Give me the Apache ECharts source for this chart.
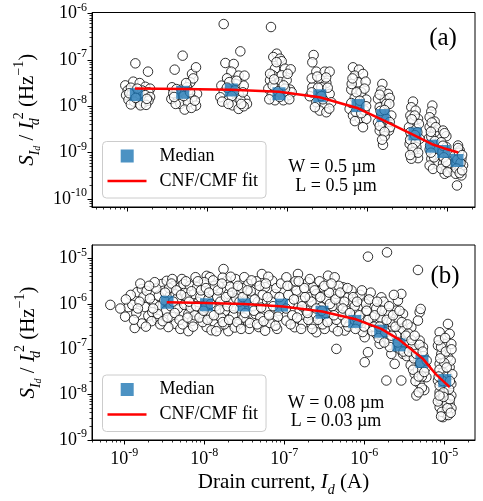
<!DOCTYPE html>
<html><head><meta charset="utf-8">
<script src="https://cdn.jsdelivr.net/npm/echarts@6/dist/echarts.min.js"></script>
<style>html,body{margin:0;padding:0;background:#fff}#c{width:483px;height:501px}</style>
</head><body><div id="c"></div><script>
// All values are log10 exponents: [log10(Id / A), log10(S/Id^2 / Hz^-1)]
const pointsA = [
[-8.904,-7.075],[-8.746,-7.254],[-9.03,-7.55],[-8.93,-7.47],[-8.85,-7.50],[-8.78,-7.58],[-8.72,-7.62],[-9.00,-7.66],[-8.96,-7.60],[-8.82,-7.66],[-8.74,-7.70],[-9.02,-7.76],[-8.95,-7.74],[-8.78,-7.76],[-8.72,-7.80],[-8.99,-7.86],[-8.92,-7.90],[-8.86,-7.94],[-8.80,-7.92],[-8.74,-7.88],[-8.96,-7.96],[-8.84,-7.98],[-8.77,-7.97],
[-8.88,-7.62],[-8.98,-7.72],[-8.76,-7.84],[-8.90,-7.82],
[-8.313,-6.91],[-8.413,-7.211],[-8.196,-7.304],[-8.146,-7.161],[-8.217,-7.483],[-8.446,-7.591],[-8.329,-7.641],[-8.404,-7.734],[-8.133,-7.734],[-8.454,-7.842],[-8.371,-7.856],[-8.196,-7.842],[-8.342,-7.949],[-8.246,-7.914],[-8.146,-7.985],[-8.288,-8.071],[-8.204,-8.035],[-8.35,-7.68],[-8.258,-7.591],[-8.39,-7.63],[-8.18,-7.40],
[-8.43,-7.72],[-8.30,-7.78],[-8.22,-7.70],[-8.16,-7.88],[-8.40,-7.95],[-8.27,-7.50],[-8.42,-7.80],
[-7.80,-6.229],[-7.592,-6.817],[-7.779,-7.068],[-7.675,-7.089],[-7.704,-7.254],[-7.613,-7.340],[-7.758,-7.397],[-7.54,-7.34],[-7.646,-7.519],[-7.829,-7.555],[-7.73,-7.48],[-7.55,-7.555],[-7.80,-7.698],[-7.613,-7.734],[-7.842,-7.806],[-7.53,-7.856],[-7.738,-7.856],[-7.654,-7.914],[-7.59,-7.86],[-7.509,-7.949],[-7.69,-7.98],[-7.613,-8.057],[-7.55,-8.00],
[-7.76,-7.60],[-7.66,-7.66],[-7.56,-7.70],[-7.70,-7.78],[-7.82,-7.90],[-7.64,-7.45],[-7.74,-7.95],[-7.58,-7.95],
[-7.209,-6.293],[-7.138,-6.867],[-7.18,-6.939],[-7.096,-6.974],[-7.075,-7.03],[-7.159,-7.19],[-7.034,-7.19],[-6.963,-7.204],[-7.188,-7.333],[-7.075,-7.333],[-7.221,-7.44],[-7.096,-7.476],[-7.013,-7.44],[-7.242,-7.62],[-7.159,-7.60],[-6.971,-7.641],[-7.2,-7.763],[-6.992,-7.763],[-7.159,-7.871],[-7.054,-7.871],[-6.95,-7.70],[-7.188,-7.55],[-7.034,-7.62],
[-7.14,-7.05],[-7.22,-7.30],[-7.00,-7.30],[-7.12,-7.68],[-7.23,-7.85],[-7.05,-7.55],[-6.98,-7.85],[-7.10,-7.80],[-7.17,-7.42],
[-6.676,-6.896],[-6.692,-7.053],[-6.642,-7.254],[-6.538,-7.254],[-6.476,-7.254],[-6.6,-7.412],[-6.517,-7.498],[-6.692,-7.591],[-6.58,-7.59],[-6.725,-7.784],[-6.476,-7.734],[-6.642,-7.914],[-6.538,-7.949],[-6.455,-7.914],[-6.6,-8.093],[-6.517,-8.129],[-6.66,-8.02],[-6.56,-7.85],[-6.70,-7.40],
[-6.62,-7.60],[-6.70,-7.70],[-6.50,-7.60],[-6.58,-7.78],[-6.48,-8.05],[-6.63,-7.36],[-6.52,-7.38],
[-6.184,-7.161],[-6.109,-7.211],[-6.163,-7.34],[-6.059,-7.304],[-6.121,-7.483],[-6.026,-7.469],[-6.205,-7.641],[-6.08,-7.698],[-6.163,-7.827],[-6.018,-7.856],[-6.226,-8.057],[-6.121,-7.95],[-6.184,-8.2],[-6.1,-8.258],[-6.018,-8.272],[-6.059,-8.451],[-6.15,-8.12],[-6.205,-7.93],[-6.04,-8.09],
[-6.20,-7.52],[-6.04,-7.62],[-6.14,-7.70],[-6.10,-7.88],[-6.02,-8.00],[-6.16,-8.32],[-6.08,-8.15],[-6.19,-7.40],
[-5.817,-7.519],[-5.83,-7.663],[-5.746,-7.734],[-5.871,-7.842],[-5.788,-7.856],[-5.725,-7.82],[-5.85,-8.021],[-5.767,-7.949],[-5.83,-8.164],[-5.705,-8.2],[-5.871,-8.344],[-5.809,-8.38],[-5.734,-8.523],[-5.85,-8.523],[-5.788,-8.645],[-5.809,-8.831],[-5.767,-8.27],[-5.725,-8.34],
[-5.85,-7.75],[-5.73,-7.95],[-5.84,-8.10],[-5.79,-8.08],[-5.72,-8.45],[-5.85,-8.42],[-5.79,-8.55],[-5.82,-8.72],
[-5.434,-7.899],[-5.455,-8.021],[-5.401,-8.093],[-5.467,-8.2],[-5.371,-8.272],[-5.434,-8.34],[-5.484,-8.451],[-5.392,-8.487],[-5.455,-8.63],[-5.351,-8.702],[-5.476,-8.81],[-5.392,-8.881],[-5.434,-8.989],[-5.371,-9.118],[-5.455,-9.13],[-5.413,-8.2],[-5.36,-8.38],[-5.467,-8.56],
[-5.45,-8.28],[-5.38,-8.56],[-5.47,-8.72],[-5.40,-8.78],[-5.44,-8.90],[-5.37,-9.00],[-5.47,-9.05],[-5.41,-8.62],
[-5.192,-7.985],[-5.205,-8.114],[-5.226,-8.236],[-5.163,-8.329],[-5.226,-8.451],[-5.163,-8.559],[-5.234,-8.688],[-5.184,-8.81],[-5.226,-8.932],[-5.163,-9.025],[-5.205,-9.132],[-5.142,-9.24],[-5.226,-9.276],[-5.184,-9.35],[-5.134,-8.91],[-5.205,-8.66],
[-5.20,-8.35],[-5.16,-8.75],[-5.22,-8.85],[-5.17,-9.10],[-5.21,-9.00],[-5.15,-8.45],[-5.21,-8.55],
[-5.059,-8.523],[-5.017,-8.645],[-5.08,-8.774],[-5.017,-8.881],[-5.067,-8.989],[-5.009,-9.132],[-5.059,-9.24],[-5.017,-9.347],[-5.038,-9.455],[-5.08,-9.347],[-4.997,-9.24],
[-5.04,-8.58],[-5.06,-8.85],[-5.00,-9.00],[-5.05,-9.10],[-5.02,-9.20],[-5.00,-9.42],
[-4.871,-8.845],[-4.85,-8.953],[-4.913,-9.06],[-4.829,-9.132],[-4.892,-9.24],[-4.85,-9.347],[-4.9,-9.455],[-4.829,-9.49],[-4.884,-9.706],[-4.808,-9.27],
[-4.86,-9.00],[-4.88,-9.15],[-4.84,-9.22],[-4.89,-9.34],[-4.85,-9.44],[-4.82,-9.38],[-4.87,-8.90],[-4.82,-9.05]
];
const medianA_logId = [-8.892,-8.3125,-7.705,-7.109,-6.60,-6.121,-5.809,-5.41,-5.196,-5.05,-4.884];
const medianA_logS  = [-7.75,-7.70,-7.649,-7.731,-7.774,-7.985,-8.2,-8.596,-8.86,-8.974,-9.168];
const fitA_logId = [-8.91,-8.3125,-7.705,-7.109,-6.60,-6.121,-5.809,-5.41,-5.196,-5.05,-4.868];
const fitA_logS  = [-7.619,-7.63,-7.645,-7.688,-7.806,-8.043,-8.30,-8.634,-8.817,-8.903,-8.996];

const pointsB = [
[-9.175,-6.02],[-8.99,-6.28],[-8.95,-6.07],[-8.90,-6.02],[-8.87,-6.53],[-8.84,-5.74],[-8.78,-5.67],[-8.76,-5.84],[-8.74,-6.07],[-8.78,-6.43],[-8.70,-6.26],[-8.72,-5.71],[-8.63,-6.00],[-8.65,-6.18],[-8.59,-6.33],[-8.53,-5.56],[-8.51,-5.71],[-8.57,-5.82],[-8.47,-5.49],[-8.40,-5.45],[-8.38,-5.60],[-8.43,-5.82],[-8.36,-5.78],[-8.30,-5.63],[-8.28,-5.45],[-8.24,-5.74],[-8.32,-5.93],[-8.28,-6.18],[-8.20,-6.22],[-8.40,-6.29],[-8.36,-6.44],[-8.45,-6.51],[-8.30,-6.55],[-8.20,-6.60],[-8.15,-6.37],[-8.11,-5.41],[-8.13,-5.78],[-8.07,-5.96],[-8.03,-6.22],[-7.97,-5.38],[-7.93,-5.41],[-7.90,-5.71],[-7.82,-5.56],[-7.84,-5.85],[-7.76,-5.23],[-7.72,-5.49],[-7.70,-5.78],[-7.74,-6.15],[-7.88,-6.44],[-7.97,-6.51],[-7.82,-6.51],[-7.70,-6.60],[-7.61,-5.45],[-7.57,-5.78],[-7.50,-5.41],[-7.45,-5.56],[-7.40,-5.85],[-7.36,-6.22],[-7.47,-6.37],[-7.57,-6.44],[-7.28,-5.34],[-7.24,-5.63],[-7.32,-6.51],[-7.24,-6.59],[-7.15,-5.49],[-7.12,-5.78],[-7.13,-6.37],[-7.07,-6.15],[-7.09,-6.55],
[-8.92,-5.80],[-8.85,-6.20],[-8.81,-5.95],[-8.68,-5.88],[-8.66,-6.38],[-8.60,-5.66],[-8.56,-6.05],[-8.55,-6.45],[-8.50,-5.92],[-8.48,-6.15],[-8.44,-5.65],[-8.42,-6.05],[-8.34,-5.88],[-8.33,-6.10],[-8.26,-5.56],[-8.25,-6.02],[-8.22,-5.85],[-8.18,-5.60],[-8.17,-6.08],[-8.12,-6.25],[-8.09,-5.63],[-8.05,-5.85],[-8.02,-6.40],[-8.00,-5.52],[-7.99,-6.08],[-7.95,-5.90],[-7.92,-6.22],[-7.91,-6.58],[-7.87,-5.60],[-7.86,-6.05],[-7.80,-5.95],[-7.79,-6.30],[-7.77,-5.42],[-7.75,-6.45],[-7.68,-5.62],[-7.66,-5.95],[-7.64,-6.25],[-7.62,-6.52],[-7.60,-5.88],[-7.55,-6.10],[-7.53,-5.65],[-7.51,-6.30],[-7.48,-5.95],[-7.44,-6.55],[-7.42,-5.72],[-7.39,-6.05],[-7.35,-5.50],[-7.33,-5.95],[-7.30,-6.30],[-7.27,-5.80],[-7.22,-6.10],[-7.20,-5.40],[-7.18,-6.42],[-7.16,-5.95],[-7.10,-5.65],[-7.08,-6.28],
[-8.62,-5.52],[-8.58,-6.22],[-8.52,-6.38],[-8.49,-5.75],[-8.46,-6.30],[-8.41,-5.55],[-8.39,-5.95],[-8.37,-6.20],[-8.35,-5.70],[-8.31,-6.35],[-8.29,-5.80],[-8.27,-6.45],[-8.23,-5.50],[-8.21,-6.30],[-8.19,-5.95],[-8.16,-5.72],[-8.14,-6.50],[-8.10,-6.05],[-8.08,-5.50],[-8.06,-6.30],[-8.04,-5.70],[-8.01,-6.15],[-7.98,-5.65],[-7.96,-6.35],[-7.94,-5.75],[-7.92,-6.00],[-7.89,-5.48],[-7.88,-6.25],[-7.85,-6.60],[-7.83,-5.70],[-7.81,-6.12],[-7.78,-5.55],[-7.77,-6.40],[-7.73,-5.85],[-7.71,-6.05],[-7.69,-6.35],[-7.67,-5.40],[-7.65,-5.75],[-7.63,-6.10],[-7.59,-6.40],[-7.58,-5.60],[-7.56,-5.95],[-7.54,-6.55],[-7.52,-5.85],[-7.49,-6.20],[-7.46,-5.70],[-7.43,-6.42],[-7.41,-5.48],[-7.38,-6.15],[-7.37,-5.90],[-7.34,-6.45],[-7.31,-5.60],[-7.29,-6.08],[-7.26,-6.38],[-7.23,-5.55],[-7.21,-5.85],[-7.19,-6.25],[-7.14,-6.05],[-7.11,-6.48],[-7.06,-5.85],[-7.04,-5.55],
[-9.05,-6.10],[-8.98,-5.90],[-8.88,-6.35],[-8.83,-6.10],[-8.80,-5.55],[-8.73,-6.50],[-8.69,-5.60],[-8.64,-6.10],
[-6.974,-5.412],[-6.891,-5.596],[-6.829,-5.339],[-6.849,-5.706],[-6.933,-6.0],[-6.808,-6.146],[-6.974,-6.367],[-6.87,-6.514],[-6.766,-6.44],[-6.787,-5.926],[-6.703,-5.522],[-6.641,-5.632],[-6.683,-5.853],[-6.599,-5.779],[-6.724,-6.146],[-6.62,-6.257],[-6.662,-6.44],[-6.599,-6.624],[-6.516,-5.632],[-6.474,-5.889],[-6.537,-6.073],[-6.433,-6.367],[-6.391,-6.514],[-6.495,-6.55],[-6.453,-5.376],[-6.37,-5.412],[-6.349,-5.779],[-6.308,-6.036],[-6.266,-5.632],[-6.203,-5.853],[-6.224,-6.146],[-6.141,-5.963],[-6.183,-6.44],[-6.099,-6.22],[-6.245,-6.587],[-6.349,-6.991],[-6.016,-5.926],[-5.974,-6.146],[-6.037,-6.367],[-5.933,-6.514],[-5.995,-6.734],[-5.891,-6.293],[-5.849,-6.66],[-5.787,-5.853],[-5.954,-7.064],[-5.808,-6.881],[-5.995,-7.284],[-5.766,-6.367],[-5.724,-6.587],[-5.683,-6.807],[-5.641,-6.514],[-5.599,-6.146],[-5.579,-5.926],[-5.537,-5.779],[-5.516,-6.22],[-5.558,-6.624],[-5.662,-7.101],[-5.62,-7.321],[-5.516,-7.101],[-5.474,-6.807],[-5.599,-6.954],[-5.724,-7.688],[-5.537,-7.688],[-5.433,-6.881],[-5.412,-6.514],[-5.37,-7.027],[-5.349,-7.321],[-5.308,-6.807],[-5.329,-7.174],[-5.266,-6.954],[-5.37,-7.541],[-5.287,-7.468],[-5.245,-7.321],[-5.308,-7.762],[-5.349,-8.019],[-5.224,-7.615],[-5.308,-6.183],[-5.329,-6.367],[-5.295,-6.11],[-5.954,-4.957],[-5.716,-4.862],[-5.329,-5.251],
[-6.95,-5.80],[-6.90,-6.25],[-6.86,-5.50],[-6.78,-6.05],[-6.75,-5.65],[-6.70,-6.35],[-6.66,-5.95],[-6.60,-6.10],[-6.56,-5.50],[-6.52,-6.45],[-6.48,-6.20],[-6.44,-5.75],[-6.40,-6.05],[-6.35,-6.35],[-6.32,-5.60],[-6.28,-6.25],[-6.25,-5.95],[-6.20,-6.50],[-6.16,-5.70],[-6.12,-6.05],[-6.08,-6.45],[-6.05,-5.80],[-6.02,-6.62],[-5.98,-6.00],[-5.95,-6.35],[-5.92,-5.75],[-5.88,-6.50],[-5.85,-6.10],[-5.82,-6.75],[-5.80,-6.30],[-5.76,-5.95],[-5.74,-6.62],[-5.70,-6.20],[-5.68,-6.95],[-5.66,-6.40],[-5.63,-5.80],[-5.60,-6.70],[-5.57,-6.35],[-5.55,-7.00],[-5.52,-6.55],[-5.50,-6.85],[-5.47,-7.15],[-5.45,-6.65],[-5.42,-7.35],[-5.40,-6.95],[-5.38,-7.20],[-5.36,-7.70],[-5.33,-7.45],[-5.31,-6.90],[-5.28,-7.60],[-5.26,-7.15],[-5.25,-7.90],[-5.23,-7.40],
[-6.98,-6.10],[-6.96,-5.60],[-6.92,-6.45],[-6.88,-5.90],[-6.84,-6.30],[-6.82,-5.50],[-6.79,-6.55],[-6.74,-5.85],[-6.71,-6.20],[-6.68,-5.45],[-6.65,-6.55],[-6.62,-5.70],[-6.58,-6.35],[-6.55,-5.85],[-6.53,-6.15],[-6.50,-5.60],[-6.46,-6.40],[-6.43,-6.00],[-6.41,-5.55],[-6.38,-6.25],[-6.36,-5.90],[-6.33,-6.60],[-6.30,-5.75],[-6.27,-6.10],[-6.23,-6.40],[-6.21,-5.65],[-6.18,-6.20],[-6.14,-5.85],[-6.11,-6.55],[-6.09,-5.95],[-6.06,-6.25],[-6.03,-5.70],[-6.00,-6.50],[-5.97,-6.15],[-5.94,-5.90],[-5.90,-6.60],[-5.87,-6.25],[-5.84,-5.95],[-5.81,-6.50],[-5.78,-6.15],[-5.75,-6.85],[-5.72,-6.35],[-5.69,-6.05],[-5.66,-6.70],[-5.64,-6.25],[-5.61,-6.50],[-5.58,-6.85],[-5.56,-6.15],[-5.53,-6.40],[-5.51,-7.05],[-5.48,-6.70],[-5.46,-6.45],[-5.44,-7.05],[-5.41,-6.80],[-5.39,-7.45],[-5.37,-6.70],[-5.35,-7.10],[-5.32,-7.60],[-5.30,-7.30],[-5.27,-7.05],[-5.25,-7.50],[-5.22,-7.25],[-5.28,-7.85],[-5.32,-7.95],
[-4.954,-6.44],[-5.058,-6.624],[-4.933,-6.66],[-4.995,-6.881],[-5.079,-6.917],[-4.912,-6.881],[-5.037,-7.101],[-4.954,-7.174],[-5.058,-7.321],[-4.933,-7.395],[-5.016,-7.505],[-5.079,-7.688],[-4.912,-7.762],[-4.995,-7.835],[-5.058,-7.945],[-4.954,-8.019],[-5.016,-8.129],[-4.933,-8.202],[-5.058,-8.276],[-4.975,-8.349],[-5.016,-8.496],[-4.975,-8.437],[-4.912,-8.019],[-5.058,-7.798],
[-5.04,-6.95],[-4.98,-7.05],[-4.92,-7.25],[-5.06,-7.45],[-4.96,-7.60],[-5.02,-7.70],[-4.94,-7.88],[-5.05,-8.10],[-4.97,-8.20],[-4.91,-8.30],[-5.03,-8.38],[-4.95,-8.45],[-5.08,-8.15],[-4.90,-7.55],[-5.00,-7.30],[-4.93,-8.10],[-5.01,-7.95],
[-5.07,-6.80],[-4.99,-6.75],[-4.91,-7.00],[-5.05,-7.20],[-4.97,-7.40],[-4.93,-7.70],[-5.07,-7.60],[-5.01,-8.05],[-4.96,-8.30],[-5.04,-8.48],[-4.92,-8.40],[-5.06,-8.02]
];
const medianB_logId = [-8.466,-7.9725,-7.504,-7.035,-6.529,-6.119,-5.795,-5.566,-5.279,-4.994];
const medianB_logS  = [-5.963,-6.018,-6.022,-6.026,-6.183,-6.385,-6.601,-6.903,-7.267,-7.689];
const fitB_logId = [-8.47,-7.9725,-7.504,-7.016,-6.525,-6.12,-5.7875,-5.5575,-5.266,-5.10,-4.9325];
const fitB_logS  = [-5.963,-5.978,-6.0,-6.055,-6.165,-6.33,-6.551,-6.793,-7.211,-7.56,-7.835];

const panelLabels = ['(a)', '(b)'];
const annotA = ['W = 0.5 µm', 'L = 0.5 µm'];
const annotB = ['W = 0.08 µm', 'L = 0.03 µm'];
const legendNames = ['Median', 'CNF/CMF fit'];

const FONT = 'Liberation Serif';
const zip = (a, b) => a.map((v, i) => [v, b[i]]);
function majors(min, max) { const o = []; for (let n = Math.ceil(min - 1e-9); n <= Math.floor(max + 1e-9); n++) o.push(n); return o; }
function minors(min, max) { const o = []; for (let n = Math.floor(min) - 1; n <= Math.ceil(max); n++) for (let k = 2; k <= 9; k++) { const v = n + Math.log10(k); if (v > min && v < max) o.push(v); } return o; }

const expRich = {
  b: { fontFamily: FONT, fontSize: 18, lineHeight: 24, color: '#000' },
  s: { fontFamily: FONT, fontSize: 12, lineHeight: 12, verticalAlign: 'top', color: '#000' }
};
const expFmt = v => '{b|10}{s|' + Math.round(v) + '}';

const nameRich = {
  i: { fontFamily: FONT, fontStyle: 'italic', fontSize: 21, lineHeight: 30, color: '#000' },
  n: { fontFamily: FONT, fontSize: 21, lineHeight: 30, color: '#000' },
  sub: { fontFamily: FONT, fontStyle: 'italic', fontSize: 14, lineHeight: 18, verticalAlign: 'bottom', color: '#000' },
  subw: { fontFamily: FONT, fontStyle: 'italic', fontSize: 14, lineHeight: 18, verticalAlign: 'bottom', color: '#000', width: 1 },
  ss: { fontFamily: FONT, fontStyle: 'italic', fontSize: 10, lineHeight: 12, verticalAlign: 'bottom', color: '#000' },
  sup: { fontFamily: FONT, fontSize: 14, lineHeight: 16, verticalAlign: 'top', color: '#000' },
  supp: { fontFamily: FONT, fontSize: 14, lineHeight: 16, verticalAlign: 'top', color: '#000', padding: [0, 0, 0, 2] }
};
const yName = '{i|S}{sub|I}{ss|d}{n| / }{i|I}{subw|d}{supp|2}{n| (Hz}{sup|−1}{n|)}';
const xName = '{n|Drain current, }{i|I}{sub|d}{n| (A)}';

const ranges = [
  { x: [-9.446, -4.659], y: [-10.17, -5.98] },
  { x: [-9.404, -4.616], y: [-9.0, -4.7] }
];

function axisPair(dim, gi, r, showLabel, name) {
  const [min, max] = r;
  const major = {
    gridIndex: gi, type: 'value', min, max, position: dim === 'x' ? 'bottom' : 'left',
    axisLine: { show: true, onZero: false, lineStyle: { color: '#000', width: 1 } },
    axisTick: { show: true, customValues: majors(min, max), length: 4.5, lineStyle: { color: '#000', width: 1 } },
    axisLabel: showLabel ? { show: true, customValues: majors(min, max), formatter: expFmt, rich: expRich, margin: dim === 'x' ? 7 : 5 } : { show: false },
    splitLine: { show: false }
  };
  if (name) {
    major.name = name;
    major.nameLocation = 'middle';
    major.nameTextStyle = { rich: nameRich };
    if (dim === 'y') { major.nameRotate = 90; major.nameGap = 49; }
    else { major.nameGap = 27; }
  }
  const minor = {
    gridIndex: gi, type: 'value', min, max, position: dim === 'x' ? 'bottom' : 'left',
    axisLine: { show: false, onZero: false },
    axisTick: { show: true, customValues: minors(min, max), length: 2.5, lineStyle: { color: '#000', width: 0.8 } },
    axisLabel: { show: false }, splitLine: { show: false }
  };
  return [major, minor];
}

const xAxis = [...axisPair('x', 0, ranges[0].x, false, null), ...axisPair('x', 1, ranges[1].x, true, xName)];
const yAxis = [...axisPair('y', 0, ranges[0].y, true, yName), ...axisPair('y', 1, ranges[1].y, true, yName)];

const ICON_SQ = 'path://M0,0M47,13M13.2,0L26.2,0L26.2,13L13.2,13Z';
const ICON_LN = 'path://M0,0M47,13M0,5.25L39,5.25L39,7.75L0,7.75Z';

function legend(top) {
  return {
    orient: 'vertical', left: 102.5, top, padding: [5.5, 8, 8, 5], itemGap: 7,
    itemWidth: 47, itemHeight: 13, selectedMode: false,
    backgroundColor: '#fff', borderColor: '#cccccc', borderWidth: 1, borderRadius: 4,
    textStyle: { fontFamily: FONT, fontSize: 18, color: '#000' },
    itemStyle: { borderWidth: 0 },
    data: [{ name: legendNames[0], icon: ICON_SQ }, { name: legendNames[1], icon: ICON_LN }]
  };
}

function seriesFor(gi, pts, mx, my, fx, fy) {
  return [
    { name: 'data' + gi, type: 'scatter', xAxisIndex: gi * 2, yAxisIndex: gi * 2, data: pts, symbol: 'circle', symbolSize: 9.5,
      itemStyle: { color: '#fff', borderColor: '#000', borderWidth: 1 }, silent: true, z: 2 },
    { name: legendNames[0], type: 'scatter', xAxisIndex: gi * 2, yAxisIndex: gi * 2, data: zip(mx, my), symbol: 'rect', symbolSize: 13,
      itemStyle: { color: '#1f77b4' }, silent: true, z: 3 },
    { name: legendNames[1], type: 'line', xAxisIndex: gi * 2, yAxisIndex: gi * 2, data: zip(fx, fy), symbol: 'none', showSymbol: false,
      lineStyle: { color: '#ff0000', width: 2.5 }, itemStyle: { color: '#ff0000' }, silent: true, z: 4 }
  ];
}

function txt(x, y, text, size) {
  return { type: 'text', x, y, silent: true, z: 100,
    style: { text, fill: '#000', font: size + 'px "' + FONT + '"', align: 'center', verticalAlign: 'middle', textAlign: 'center', textVerticalAlign: 'middle' } };
}

const chart = echarts.init(document.getElementById('c'), null, { renderer: 'canvas' });
chart.setOption({
  animation: false,
  backgroundColor: '#fff',
  grid: [
    { left: 92, top: 12.5, width: 383, height: 194.5, show: true, borderColor: '#000', borderWidth: 1, backgroundColor: 'transparent' },
    { left: 92, top: 245, width: 383, height: 195, show: true, borderColor: '#000', borderWidth: 1, backgroundColor: 'transparent' }
  ],
  xAxis, yAxis,
  legend: [legend(141.5), legend(375)],
  series: [
    ...seriesFor(0, pointsA, medianA_logId, medianA_logS, fitA_logId, fitA_logS),
    ...seriesFor(1, pointsB, medianB_logId, medianB_logS, fitB_logId, fitB_logS)
  ],
  graphic: [
    txt(443, 38.5, panelLabels[0], 25), txt(445, 276, panelLabels[1], 25),
    txt(332, 167, annotA[0], 18), txt(336, 186, annotA[1], 18),
    txt(336, 403, annotB[0], 18), txt(336, 421, annotB[1], 18)
  ]
});
</script></body></html>
